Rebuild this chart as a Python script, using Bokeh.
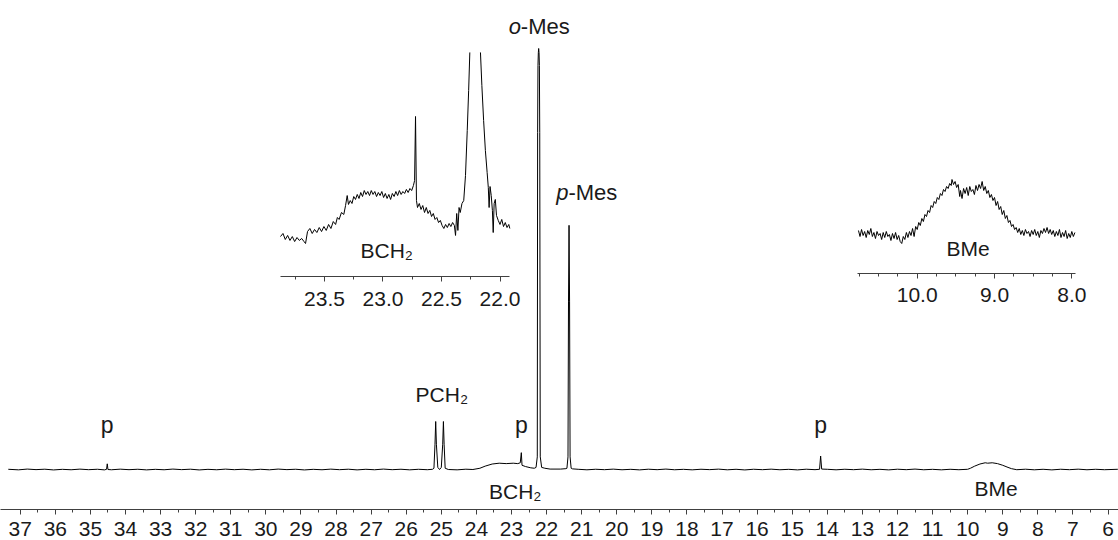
import numpy as np
from bokeh.plotting import figure
from bokeh.models import Range1d, LinearAxis, FixedTicker, PrintfTickFormatter
from bokeh.embed import file_html
from bokeh.resources import INLINE
from bokeh.core.properties import value

# ---------------- data ----------------
# main spectrum: chemical shift (ppm) and relative intensity (o-Mes = 100)
main_ppm = [37.34, 37.05, 36.80, 36.55, 36.30, 36.05, 35.80, 35.55, 35.30, 35.05,
            34.80, 34.60, 34.54, 34.52, 34.50, 34.40, 34.15, 33.90, 33.65, 33.40,
            33.15, 32.90, 32.65, 32.40, 32.15, 31.90, 31.65, 31.40, 31.15, 30.90,
            30.65, 30.40, 30.15, 29.90, 29.65, 29.40, 29.15, 28.90, 28.65, 28.40,
            28.15, 27.90, 27.65, 27.40, 27.15, 26.90, 26.65, 26.40, 26.15, 25.90,
            25.65, 25.40, 25.25, 25.21, 25.18, 25.16, 25.14, 25.10, 25.05, 25.00,
            24.96, 24.94, 24.92, 24.89, 24.80, 24.55, 24.30, 24.10, 23.90, 23.75,
            23.55, 23.35, 23.15, 22.95, 22.82, 22.75, 22.72, 22.70, 22.60, 22.45,
            22.35, 22.30, 22.265, 22.255, 22.245, 22.235, 22.225, 22.215, 22.205, 22.195,
            22.18, 22.14, 22.05, 21.90, 21.60, 21.45, 21.42, 21.39, 21.375, 21.36,
            21.345, 21.33, 21.30, 21.26, 21.10, 20.85, 20.60, 20.35, 20.10, 19.85,
            19.60, 19.35, 19.10, 18.85, 18.60, 18.35, 18.10, 17.85, 17.60, 17.35,
            17.10, 16.85, 16.60, 16.35, 16.10, 15.85, 15.60, 15.35, 15.10, 14.85,
            14.60, 14.35, 14.22, 14.19, 14.16, 14.00, 13.75, 13.50, 13.25, 13.00,
            12.75, 12.50, 12.25, 12.00, 11.75, 11.50, 11.25, 11.00, 10.75, 10.50,
            10.25, 10.00, 9.92, 9.80, 9.65, 9.50, 9.43, 9.30, 9.15, 9.00,
            8.85, 8.75, 8.60, 8.35, 8.10, 7.85, 7.60, 7.35, 7.10, 6.85,
            6.60, 6.35, 6.10, 5.72]
main_int = [0.05, -0.08, 0.1, -0.03, 0.07, -0.1, 0.04, -0.06, 0.09, -0.04,
            0.06, -0.09, 0.05, 1.35, 0.0, -0.06, 0.08, -0.04, 0.06, -0.09,
            0.04, -0.06, 0.1, -0.03, 0.07, -0.1, 0.04, -0.06, 0.09, -0.04,
            0.06, -0.09, 0.05, -0.07, 0.1, -0.03, 0.06, -0.1, 0.04, -0.06,
            0.09, -0.04, 0.07, -0.09, 0.05, -0.06, 0.1, -0.04, 0.06, -0.08,
            0.05, -0.05, 0.05, 0.3, 6.0, 11.4, 6.0, 0.5, 0.0, 0.5,
            6.0, 11.4, 6.0, 0.3, 0.0, -0.08, 0.07, 0.0, 0.3, 0.8,
            1.3, 1.5, 1.4, 1.5, 1.4, 1.6, 4.0, 1.0, 0.7, 0.4,
            0.3, 0.5, 3.0, 80.0, 96.0, 99.0, 100.0, 99.0, 96.0, 80.0,
            3.0, 0.5, 0.3, 0.1, 0.1, 0.2, 0.3, 3.0, 40.0, 58.0,
            40.0, 3.0, 0.3, 0.15, 0.05, -0.07, 0.06, -0.04, 0.09, -0.06,
            0.04, -0.09, 0.07, -0.04, 0.1, -0.06, 0.04, -0.08, 0.06, -0.03,
            0.09, -0.07, 0.05, -0.1, 0.06, -0.04, 0.08, -0.06, 0.04, -0.09,
            0.07, -0.04, 0.05, 3.2, 0.1, 0.05, -0.07, 0.06, -0.04, 0.09,
            -0.06, 0.04, -0.09, 0.07, -0.04, 0.1, -0.06, 0.04, -0.08, 0.05,
            -0.05, 0.05, 0.3, 0.8, 1.3, 1.6, 1.5, 1.6, 1.4, 1.0,
            0.5, 0.2, -0.05, 0.07, -0.07, 0.05, -0.09, 0.06, -0.04, 0.08,
            -0.06, 0.05, -0.05, 0.05]

# inset 1 (BCH2 region), intensity in a.u. (spike at 22.72 = 100)
ins1_ppm = [23.876, 23.855, 23.835, 23.815, 23.795, 23.775, 23.755, 23.735, 23.715, 23.695,
            23.675, 23.662, 23.645, 23.625, 23.605, 23.585, 23.565, 23.545, 23.525, 23.505,
            23.485, 23.465, 23.445, 23.425, 23.405, 23.39, 23.375, 23.355, 23.335, 23.32,
            23.306, 23.295, 23.28, 23.265, 23.25, 23.235, 23.22, 23.205, 23.19, 23.175,
            23.16, 23.145, 23.13, 23.115, 23.10, 23.085, 23.07, 23.055, 23.04, 23.025,
            23.01, 22.995, 22.98, 22.965, 22.95, 22.935, 22.92, 22.905, 22.89, 22.875,
            22.86, 22.845, 22.83, 22.815, 22.80, 22.785, 22.77, 22.755, 22.74, 22.73,
            22.722, 22.714, 22.705, 22.69, 22.675, 22.66, 22.645, 22.63, 22.615, 22.60,
            22.585, 22.57, 22.555, 22.54, 22.525, 22.51, 22.495, 22.48, 22.465, 22.45,
            22.435, 22.42, 22.405, 22.39, 22.38, 22.37, 22.36, 22.35, 22.34, 22.325,
            22.31, 22.295, 22.28, 22.268, 22.258, 22.21, 22.167, 22.155, 22.14, 22.125,
            22.11, 22.10, 22.093, 22.085, 22.075, 22.065, 22.058, 22.05, 22.04, 22.03,
            22.015, 22.0, 21.985, 21.97, 21.955, 21.94, 21.925, 21.916]
ins1_int = [1.6, 4.1, -0.8, 2.5, -1.6, 1.6, -2.5, 0.8, -1.6, 0.0,
            -2.5, -4.1, 5.7, 8.2, 4.1, 7.4, 4.9, 9.0, 5.7, 9.8,
            6.6, 11.5, 8.2, 13.9, 11.5, 17.2, 15.6, 21.3, 19.7, 27.0,
            35.2, 27.9, 31.1, 28.7, 34.4, 32.0, 36.1, 32.8, 37.7, 34.4,
            39.3, 36.1, 38.5, 35.2, 39.3, 36.1, 38.5, 34.4, 37.7, 35.2,
            38.5, 33.6, 36.9, 32.8, 36.1, 32.0, 36.9, 34.4, 38.5, 35.2,
            39.3, 36.1, 38.5, 36.9, 40.2, 37.7, 41.0, 39.3, 43.4, 47.5,
            100.0, 31.1, 25.4, 28.7, 23.8, 27.0, 21.3, 25.4, 20.5, 23.0,
            18.0, 20.5, 15.6, 17.2, 13.1, 14.8, 10.7, 8.2, 11.5, 9.0,
            12.3, 9.8, 13.1, 10.7, 2.5, 20.5, 6.6, 25.4, 21.3, 28.7,
            31.1, 51.6, 88.5, 121.3, 152.5, np.nan, 152.5, 125.4, 96.7, 72.1,
            54.1, 41.8, 25.4, 42.6, 35.2, 23.0, 4.9, 28.7, 32.0, 18.9,
            14.8, 11.5, 15.6, 9.8, 13.1, 9.0, 11.5, 8.2]

# inset 2 (BMe region), intensity in a.u.
ins2_ppm = [10.76, 10.74, 10.72, 10.70, 10.68, 10.66, 10.64, 10.62, 10.60, 10.58,
            10.56, 10.54, 10.52, 10.50, 10.48, 10.46, 10.44, 10.42, 10.40, 10.38,
            10.36, 10.34, 10.32, 10.30, 10.28, 10.26, 10.24, 10.22, 10.20, 10.18,
            10.16, 10.14, 10.12, 10.10, 10.08, 10.06, 10.04, 10.02, 10.00, 9.98,
            9.96, 9.94, 9.92, 9.90, 9.88, 9.86, 9.84, 9.82, 9.80, 9.78,
            9.76, 9.74, 9.72, 9.70, 9.68, 9.66, 9.64, 9.62, 9.60, 9.58,
            9.56, 9.55, 9.53, 9.51, 9.49, 9.47, 9.45, 9.44, 9.42, 9.40,
            9.38, 9.36, 9.34, 9.32, 9.30, 9.28, 9.26, 9.24, 9.22, 9.20,
            9.18, 9.16, 9.14, 9.12, 9.10, 9.08, 9.06, 9.04, 9.02, 9.00,
            8.98, 8.96, 8.94, 8.92, 8.90, 8.88, 8.86, 8.84, 8.82, 8.80,
            8.78, 8.76, 8.74, 8.72, 8.70, 8.68, 8.66, 8.64, 8.62, 8.60,
            8.58, 8.56, 8.54, 8.52, 8.50, 8.48, 8.46, 8.44, 8.42, 8.40,
            8.38, 8.36, 8.34, 8.32, 8.30, 8.28, 8.26, 8.24, 8.22, 8.20,
            8.18, 8.16, 8.14, 8.12, 8.10, 8.08, 8.06, 8.04, 8.02, 8.00,
            7.98, 7.96]
ins2_int = [8, -4, 10, -2, 6, -6, 8, 0, 12, -4,
            4, -8, 6, -2, 2, -10, 4, -6, 6, -4,
            0, -12, 2, -8, 4, -10, -2, -14, -18, -4,
            -10, 4, -6, 6, -2, 12, -4, 16, 10, 24,
            18, 32, 26, 40, 36, 48, 44, 58, 54, 66,
            62, 74, 70, 82, 78, 90, 86, 96, 92, 102,
            98, 110, 100, 106, 94, 100, 76, 88, 72, 92,
            82, 94, 78, 96, 86, 90, 80, 98, 88, 100,
            92, 106, 88, 96, 82, 88, 74, 80, 68, 74,
            58, 66, 50, 56, 40, 48, 32, 38, 24, 28,
            16, 20, 10, 14, 4, 12, 0, 8, -2, 10,
            2, 6, -4, 8, 0, 10, -2, 6, -6, 8,
            2, 12, 4, 14, 2, 10, 0, 8, -4, 6,
            -2, 10, -6, 4, -4, 8, -8, 2, -6, 6,
            -4, 4]

# axis ticks
main_ticks = list(range(6, 38))
main_minor = [t + 0.5 for t in range(5, 37)]
ins1_ticks = [22.0, 22.5, 23.0, 23.5]
ins1_minor = [22.25, 22.75, 23.25, 23.75]
ins2_ticks = [8.0, 9.0, 10.0]
ins2_minor = [8.25, 8.5, 8.75, 9.25, 9.5, 9.75, 10.25, 10.5, 10.75]

# peak labels
p_ppm = [34.52, 22.72, 14.19]

FONT = value("Liberation Sans")
TXT = "#1a1a1a"
AX = "#404040"

# ---------------- figure ----------------
p = figure(width=1118, height=540, output_backend="svg", toolbar_location=None,
           x_range=Range1d(37.5625, 5.7011), y_range=Range1d(-9.50, 111.40),
           y_axis_location=None, min_border_left=0, min_border_right=0,
           min_border_top=0, min_border_bottom=31)
p.outline_line_color = None
p.grid.visible = False
p.background_fill_color = "white"
p.border_fill_color = "white"

p.extra_x_ranges = {"i1": Range1d(26.269, 16.714), "i2": Range1d(21.859, 7.396)}
p.extra_y_ranges = {"i1y": Range1d(-222.13, 195.08), "i2y": Range1d(-550.0, 468.0)}

# main axis
ax = p.xaxis[0]
ax.ticker = FixedTicker(ticks=main_ticks, minor_ticks=main_minor)
ax.formatter = PrintfTickFormatter(format="%d")
ax.axis_line_color = AX
ax.major_tick_line_color = AX
ax.minor_tick_line_color = AX
ax.major_tick_in = 0
ax.major_tick_out = 5
ax.minor_tick_in = 0
ax.minor_tick_out = 3
ax.major_label_text_font = "Liberation Sans"
ax.major_label_text_font_size = "21px"
ax.major_label_text_color = TXT
ax.major_label_standoff = 7

# inset axes (drawn at a fixed location inside the frame)
ax1 = LinearAxis(x_range_name="i1", y_range_name="i1y", fixed_location=-31.15,
                 bounds=(21.916, 23.876),
                 ticker=FixedTicker(ticks=ins1_ticks, minor_ticks=ins1_minor),
                 formatter=PrintfTickFormatter(format="%.1f"))
ax2 = LinearAxis(x_range_name="i2", y_range_name="i2y", fixed_location=-78.0,
                 bounds=(7.95, 10.77),
                 ticker=FixedTicker(ticks=ins2_ticks, minor_ticks=ins2_minor),
                 formatter=PrintfTickFormatter(format="%.1f"))
for a, so in [(ax1, 10), (ax2, 9)]:
    a.axis_line_color = AX
    a.major_tick_line_color = AX
    a.minor_tick_line_color = AX
    a.major_tick_in = 0
    a.major_tick_out = 5
    a.minor_tick_in = 0
    a.minor_tick_out = 3
    a.major_label_text_font = "Liberation Sans"
    a.major_label_text_font_size = "21px"
    a.major_label_text_color = TXT
    a.major_label_standoff = so
    p.add_layout(a, "below")

# spectra
p.line(main_ppm, main_int, line_color="black", line_width=1)
p.line(ins1_ppm, ins1_int, line_color="black", line_width=1,
       x_range_name="i1", y_range_name="i1y")
p.line(ins2_ppm, ins2_int, line_color="black", line_width=1,
       x_range_name="i2", y_range_name="i2y")

# labels - main
common = dict(text_font=FONT, text_color=TXT, text_baseline="alphabetic", y_offset=-7)
p.text(x=[22.22], y=[103.6], text=["o"], text_align="right", x_offset=-18,
       text_font_size="22px", text_font_style="italic", **common)
p.text(x=[22.22], y=[103.6], text=["-Mes"], text_align="left", x_offset=-18,
       text_font_size="22px", **common)
p.text(x=[21.35], y=[64.1], text=["p"], text_align="right", x_offset=-1,
       text_font_size="22px", text_font_style="italic", **common)
p.text(x=[21.35], y=[64.1], text=["-Mes"], text_align="left", x_offset=-1,
       text_font_size="22px", **common)
p.text(x=[25.05], y=[16.2], text=["PCH\u2082"], text_align="left", x_offset=-24,
       text_font_size="21px", **common)
p.text(x=p_ppm, y=[8.8] * len(p_ppm), text=["p"] * len(p_ppm), text_align="center",
       text_font_size="23px", **common)
p.text(x=[23.64], y=[-6.9], text=["BCH\u2082"], text_align="left",
       text_font_size="21px", **common)
p.text(x=[9.19], y=[-6.2], text=["BMe"], text_align="center",
       text_font_size="21px", **common)

# labels - insets
p.text(x=[23.192], y=[-15.3], text=["BCH\u2082"], text_align="left",
       text_font_size="21px", x_range_name="i1", y_range_name="i1y", **common)
p.text(x=[9.343], y=[-42.0], text=["BMe"], text_align="center",
       text_font_size="21px", x_range_name="i2", y_range_name="i2y", **common)

open("out.html", "w").write(file_html(p, INLINE))
